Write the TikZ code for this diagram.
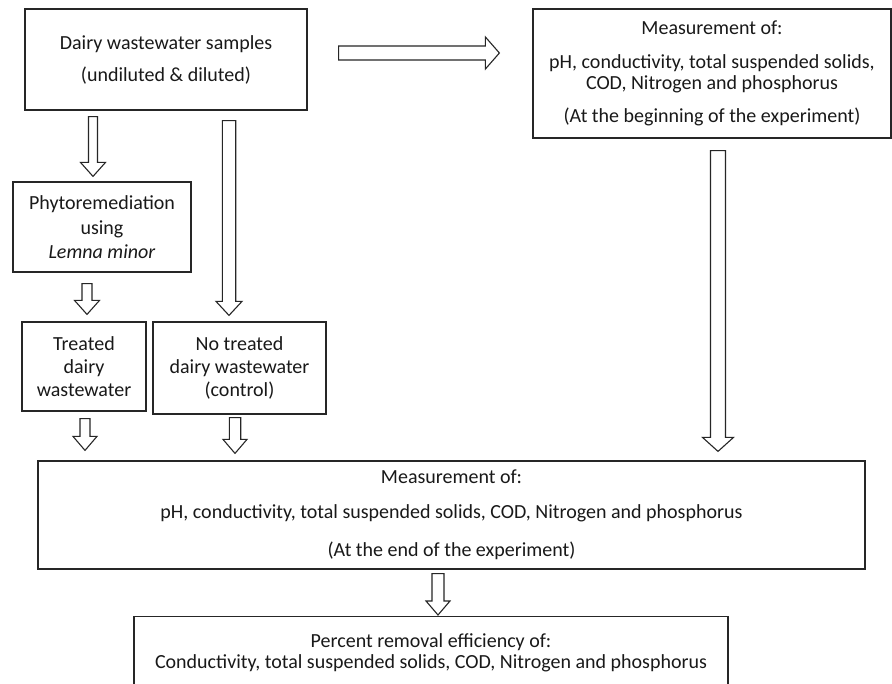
\documentclass[tikz,border=0pt]{standalone}
\usepackage{fontspec}
\setmainfont{Carlito}
\usetikzlibrary{calc}

% hollow block arrow: start, tip, half shaft width, half head width
\newcommand{\hollowarrow}[4]{%
  \path (#1) coordinate (ha) (#2) coordinate (hz) ($(hz)!14pt!(ha)$) coordinate (hb);
  \draw[arrowline] ($(ha)!#3!90:(hz)$) -- ($(hb)!#3!90:(hz)$) -- ($(hb)!#4!90:(hz)$) -- (hz)
    -- ($(hb)!#4!-90:(hz)$) -- ($(hb)!#3!-90:(hz)$) -- ($(ha)!#3!-90:(hz)$) -- cycle;}

\begin{document}
\begin{tikzpicture}[x=1pt, y=-1pt,
  box/.style={draw=black!85, line width=1.2pt, align=center, inner sep=0pt,
    font=\fontsize{20}{23}\selectfont, text=black!90},
  arrowline/.style={draw=black!85, line width=1.1pt, line join=miter, fill=white}]
\path[use as bounding box, clip] (0, 0) rectangle (892, 684);
\fill[white] (0, 0) rectangle (892, 684);

\node[box, minimum width=282, minimum height=101] (dairy) at (166, 59.5){Dairy wastewater samples\\[9pt](undiluted \& diluted)};
\node[box, minimum width=358, minimum height=129] (begin) at (712, 73.5){Measurement of:\\[11pt]pH, conductivity, total suspended solids,\\[-2pt]COD, Nitrogen and phosphorus\\[10pt](At the beginning of the experiment)};
\node[box, minimum width=178, minimum height=90] (phyto) at (102, 227){Phytoremediation\\[1.5pt]using\\[1pt]\textit{Lemna minor}};
\node[box, minimum width=124, minimum height=89] (treated) at (84, 366.5){Treated\\dairy\\wastewater};
\node[box, minimum width=173, minimum height=92] (control) at (239.5, 368){No treated\\dairy wastewater\\(control)};
\node[box, minimum width=827, minimum height=108] (final) at (451.5, 515){Measurement of:\\[12pt]pH, conductivity, total suspended solids, COD, Nitrogen and phosphorus\\[15pt](At the end of the experiment)};
\node[box, minimum width=594, minimum height=72, anchor=north] (percent) at (431, 616){Percent removal efficiency of:\\[-2pt]Conductivity, total suspended solids, COD, Nitrogen and phosphorus};

\hollowarrow{$(dairy.east |- 0,53)+(31,0)$}{$(begin.west |- 0,53)+(-33,0)$}{7pt}{16pt}
\hollowarrow{$(dairy.south -| 93,0)+(0,6)$}{$(phyto.north -| 93,0)+(0,-5)$}{4.5pt}{12.5pt}
\hollowarrow{$(dairy.south -| 229,0)+(0,10)$}{$(control.north -| 229,0)+(0,-6)$}{6.7pt}{13pt}
\hollowarrow{$(phyto.south -| 87,0)+(0,11)$}{$(treated.north -| 87,0)+(0,-7)$}{5pt}{12.5pt}
\hollowarrow{$(treated.south -| 85,0)+(0,7)$}{$(final.north -| 85,0)+(0,-10)$}{5pt}{12pt}
\hollowarrow{$(control.south -| 235,0)+(0,3)$}{$(final.north -| 235,0)+(0,-7)$}{5.7pt}{12pt}
\hollowarrow{$(begin.south -| 718,0)+(0,12)$}{$(final.north -| 718,0)+(0,-9)$}{7.5pt}{15.5pt}
\hollowarrow{$(final.south -| 438,0)+(0,4)$}{$(percent.north -| 438,0)+(0,-1)$}{6pt}{12pt}
\end{tikzpicture}
\end{document}
